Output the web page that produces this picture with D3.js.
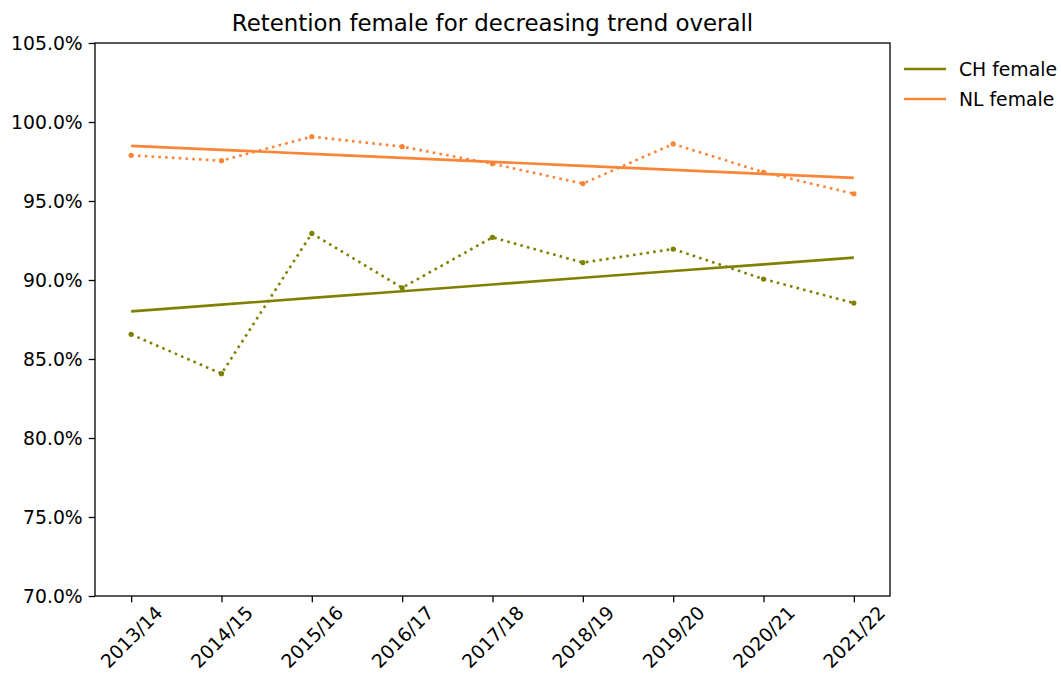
<!DOCTYPE html>
<html>
<head>
<meta charset="utf-8">
<script src="https://cdn.jsdelivr.net/npm/d3@7"></script>
<style>
  html, body { margin: 0; padding: 0; background: #ffffff; }
  svg { display: block; font-family: "DejaVu Sans", sans-serif; }
</style>
</head>
<body>
<svg id="chart" width="1061" height="684"></svg>
<script>
// Academic years on the x axis
const years = ["2013/14", "2014/15", "2015/16", "2016/17", "2017/18", "2018/19", "2019/20", "2020/21", "2021/22"];

// Retention rates (%) per year
const chFemale = [86.56, 84.07, 92.95, 89.51, 92.70, 91.10, 91.96, 90.06, 88.54];
const nlFemale = [97.89, 97.55, 99.07, 98.44, 97.36, 96.10, 98.61, 96.82, 95.46];

const seriesNames = ["CH female", "NL female"];
const seriesColors = ["#808000", "#fb8537"];

const yTicks = [70, 75, 80, 85, 90, 95, 100, 105];
const yDomain = [70, 105];

const title = "Retention female for decreasing trend overall";

const svg = d3.select("#chart");
const M = { left: 95, right: 890, top: 43, bottom: 596 };

const x = d3.scalePoint().domain(years).range([M.left, M.right]).padding(0.4);
const y = d3.scaleLinear().domain(yDomain).range([M.bottom, M.top]);

// Ordinary least-squares fit over year index
function fit(vals) {
  const n = vals.length;
  const xs = d3.range(n);
  const mx = d3.mean(xs), my = d3.mean(vals);
  let sxy = 0, sxx = 0;
  xs.forEach((xi, i) => { sxy += (xi - mx) * (vals[i] - my); sxx += (xi - mx) * (xi - mx); });
  const b = sxy / sxx, a = my - b * mx;
  return xs.map(xi => a + b * xi);
}

const series = [
  { name: seriesNames[0], color: seriesColors[0], values: chFemale },
  { name: seriesNames[1], color: seriesColors[1], values: nlFemale }
];

const line = d3.line().x((d, i) => x(years[i])).y(d => y(d));

const plot = svg.append("g");

series.forEach(s => {
  // observed values, dotted with point markers
  plot.append("path")
    .attr("d", line(s.values))
    .attr("fill", "none")
    .attr("stroke", s.color)
    .attr("stroke-width", 2.6)
    .attr("stroke-dasharray", "2.6,4.2");
  plot.selectAll(null).data(s.values).enter().append("circle")
    .attr("cx", (d, i) => x(years[i]))
    .attr("cy", d => y(d))
    .attr("r", 2.6)
    .attr("fill", s.color);
  // linear trend
  plot.append("path")
    .attr("d", line(fit(s.values)))
    .attr("fill", "none")
    .attr("stroke", s.color)
    .attr("stroke-width", 2.6);
});

// Axes
const fs = 18.8;
const yAxis = svg.append("g")
  .attr("transform", `translate(${M.left},0)`)
  .call(d3.axisLeft(y).tickValues(yTicks).tickFormat(d => d3.format(".1f")(d) + "%").tickSize(6.3).tickPadding(6));
yAxis.select(".domain").remove();
yAxis.selectAll(".tick line").attr("stroke", "#000").attr("stroke-width", 1.3);
yAxis.selectAll(".tick text").attr("font-size", fs).attr("fill", "#000").attr("font-family", "DejaVu Sans");

const xAxis = svg.append("g")
  .attr("transform", `translate(0,${M.bottom})`)
  .call(d3.axisBottom(x).tickSize(6.3));
xAxis.select(".domain").remove();
xAxis.selectAll(".tick line").attr("stroke", "#000").attr("stroke-width", 1.3);
xAxis.selectAll(".tick text")
  .attr("font-size", fs).attr("fill", "#000").attr("font-family", "DejaVu Sans")
  .attr("text-anchor", "middle")
  .attr("dominant-baseline", "central")
  .attr("y", 0).attr("dy", 0)
  .attr("transform", "translate(0,41) rotate(-45)");

// Frame
svg.append("rect")
  .attr("x", M.left).attr("y", M.top)
  .attr("width", M.right - M.left).attr("height", M.bottom - M.top)
  .attr("fill", "none").attr("stroke", "#000").attr("stroke-width", 1.3);

// Title
svg.append("text")
  .attr("x", (M.left + M.right) / 2).attr("y", 31)
  .attr("text-anchor", "middle")
  .attr("font-size", 22.9).attr("fill", "#000")
  .text(title);

// Legend
const legend = svg.append("g").attr("transform", "translate(904,69)");
series.forEach((s, i) => {
  const g = legend.append("g").attr("transform", `translate(0,${i * 30})`);
  g.append("line").attr("x1", 0).attr("x2", 42).attr("y1", 0).attr("y2", 0)
    .attr("stroke", s.color).attr("stroke-width", 2.6);
  g.append("text").attr("x", 55).attr("y", 0)
    .attr("dominant-baseline", "central")
    .attr("font-size", fs).attr("fill", "#000")
    .text(s.name);
});
</script>
</body>
</html>
